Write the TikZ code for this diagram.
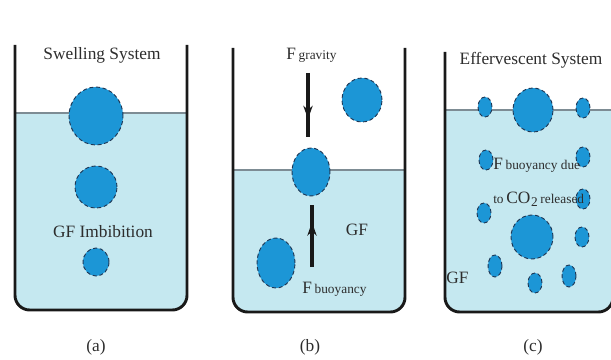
\documentclass[tikz,border=0pt]{standalone}
\usepackage{fontspec}
\setmainfont{Liberation Serif}
\usetikzlibrary{shapes.geometric,arrows.meta,decorations.markings}
\definecolor{water}{RGB}{197,232,240}
\definecolor{ballc}{RGB}{28,150,214}
\definecolor{balledge}{RGB}{30,55,85}
\definecolor{wline}{RGB}{125,140,148}
\definecolor{wallc}{RGB}{25,25,25}
\definecolor{ink}{RGB}{45,45,45}
\begin{document}
\begin{tikzpicture}[x=0.75pt,y=-0.75pt,
  ballst/.style={ellipse, fill=ballc, draw=balledge, densely dashed, line width=0.7pt, inner sep=0pt},
  bl/.style 2 args={ballst, minimum width={1.5pt*#1}, minimum height={1.5pt*#2}},
  wallst/.style={draw=wallc, line width=2.2pt, rounded corners=11pt},
  waterst/.style={fill=water, rounded corners=11pt},
  levelst/.style={draw=wline, line width=1.4pt},
  title/.style={text=ink, font=\fontsize{13}{15}\selectfont, inner sep=0pt},
  lbl/.style={text=ink, font=\fontsize{13}{15}\selectfont, inner sep=0pt},
  sub/.style={text=ink, font=\fontsize{10}{11}\selectfont, inner sep=0pt},
  force/.style={draw=wallc, line width=3pt, postaction={decorate},
    decoration={markings, mark=at position 0.72 with {\arrow[wallc]{Stealth[length=10pt,width=7pt]}}}}
]
\useasboundingbox (0,0) rectangle (611,360);
\clip (0,0) rectangle (611,360);

% ---------- panel (a)
\begin{scope}
  \clip (0,113) rectangle (611,360);
  \fill[waterst] (15,40) rectangle (187,310);
\end{scope}
\draw[levelst] (15,113) -- (187,113);
\draw[wallst] (15,45) -- (15,310) -- (187,310) -- (187,45);
\node[title] (ta) at (102,55) {Swelling System};
\node[bl={27}{29}] (a1) at (96,116) {};
\node[bl={21}{21}] (a2) at (96,187) {};
\node[lbl] (gfi) at (103,232) {GF Imbibition};
\node[bl={13}{14}] (a3) at (96,262) {};
\node[lbl] (la) at (96,347) {(a)};

% ---------- panel (b)
\begin{scope}
  \clip (0,170) rectangle (611,360);
  \fill[waterst] (233,40) rectangle (405,312);
\end{scope}
\draw[levelst] (233,170) -- (405,170);
\draw[wallst] (233,48) -- (233,312) -- (405,312) -- (405,48);
\node[lbl, anchor=base west] (fgF) at (286,60) {F};
\node[sub, anchor=base west] (fgs) at (fgF.base east) {\,gravity};
\node[bl={20}{22}] (b1) at (362,100) {};
\node[bl={19}{24}] (b2) at (311,172) {};
\node[bl={19}{25}] (b3) at (276,263) {};
\node[lbl] (gfb) at (357,230) {GF};
\node[lbl, anchor=base west] (fbF) at (302,293) {F};
\node[sub, anchor=base west] (fbs) at (fbF.base east) {\,buoyancy};
\coordinate (g0) at (308,73);
\coordinate (g1) at (308,137);
\coordinate (u0) at (312,267);
\coordinate (u1) at (312,205);
\draw[force] (g0) -- (g1);
\draw[force] (u0) -- (u1);
\node[lbl] (lb) at (310,347) {(b)};

% ---------- panel (c)
\begin{scope}
  \clip (0,110) rectangle (611,360);
  \fill[waterst] (445,40) rectangle (613,312);
\end{scope}
\draw[levelst] (445,110) -- (611,110);
\draw[wallst] (445,52) -- (445,312) -- (613,312) -- (613,52);
\node[title] (tc) at (531,60) {Effervescent System};
\node[bl={20}{22}] (c1) at (533,110) {};
\node[bl={7}{10}] (c2) at (485,107) {};
\node[bl={7}{10}] (c3) at (583,108) {};
\node[bl={7}{10}] (c4) at (486,160) {};
\node[bl={7}{10}] (c5) at (583,157) {};
\node[bl={7}{10}] (c6) at (583,199) {};
\node[bl={7}{10}] (c7) at (484,213) {};
\node[bl={21}{22}] (c8) at (532,237) {};
\node[bl={7}{10}] (c9) at (582,237) {};
\node[bl={7}{11}] (c10) at (495,266) {};
\node[bl={7}{10}] (c11) at (535,283) {};
\node[bl={7}{11}] (c12) at (569,276) {};
\node[lbl, anchor=base west] (fcF) at (493,170) {F};
\node[sub, anchor=base west] (fcs) at (fcF.base east) {\,buoyancy due};
\node[sub, anchor=base west] (cto) at (493,204) {to\,};
\node[lbl, anchor=base west] (cco) at (cto.base east) {CO};
\node[sub, anchor=base west] (c2s) at ([yshift=-2pt]cco.base east) {2};
\node[sub, anchor=base west] (crel) at ([yshift=2pt]c2s.base east) {\,released};
\node[lbl, anchor=base west] (gfc) at (446,283) {GF};
\node[lbl] (lc) at (533,347) {(c)};
\end{tikzpicture}
\end{document}
